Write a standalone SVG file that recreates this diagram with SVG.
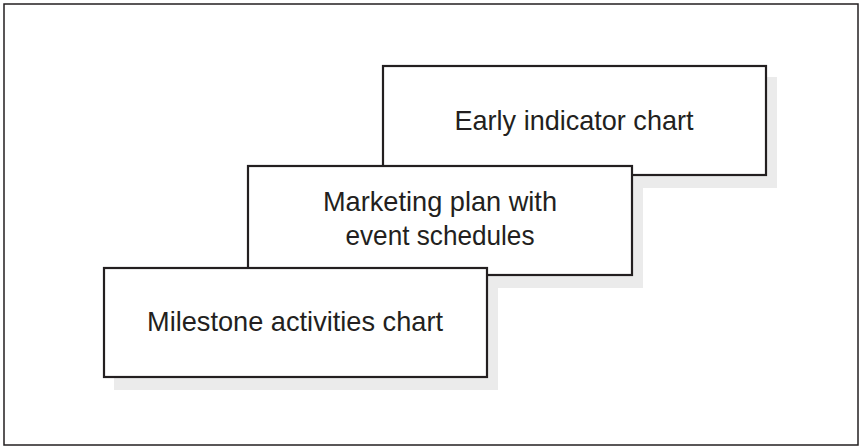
<svg xmlns="http://www.w3.org/2000/svg" width="860" height="446" viewBox="0 0 860 446">
  <style>
    .frame { fill: #ffffff; stroke: #231f20; stroke-width: 1.5; }
    .shadow { fill: #ebebeb; stroke: none; }
    .box { fill: #ffffff; stroke: #231f20; stroke-width: 2.2; }
    .label { font-family: "Liberation Sans Narrow", "Liberation Sans", "DejaVu Sans Condensed", Arial, sans-serif; font-stretch: condensed; font-size: 28.5px; fill: #231f20; text-anchor: middle; }
  </style>
  <rect class="frame" x="4" y="4" width="854" height="441"/>
  <g id="node-early-indicator">
    <rect class="shadow" x="394" y="77" width="383" height="111"/>
    <rect class="box" x="383" y="66" width="383" height="109"/>
    <text class="label" x="574" y="130" textLength="239" lengthAdjust="spacingAndGlyphs">Early indicator chart</text>
  </g>
  <g id="node-marketing-plan">
    <rect class="shadow" x="259" y="177" width="384" height="111"/>
    <rect class="box" x="248" y="166" width="384" height="109"/>
    <text class="label" x="440" y="211" textLength="234" lengthAdjust="spacingAndGlyphs">Marketing plan with</text>
    <text class="label" x="440" y="245" textLength="189" lengthAdjust="spacingAndGlyphs">event schedules</text>
  </g>
  <g id="node-milestone">
    <rect class="shadow" x="114" y="279" width="384" height="111"/>
    <rect class="box" x="104" y="268" width="383" height="109"/>
    <text class="label" x="295" y="331" textLength="296" lengthAdjust="spacingAndGlyphs">Milestone activities chart</text>
  </g>
  <g id="connectors"/>
</svg>
